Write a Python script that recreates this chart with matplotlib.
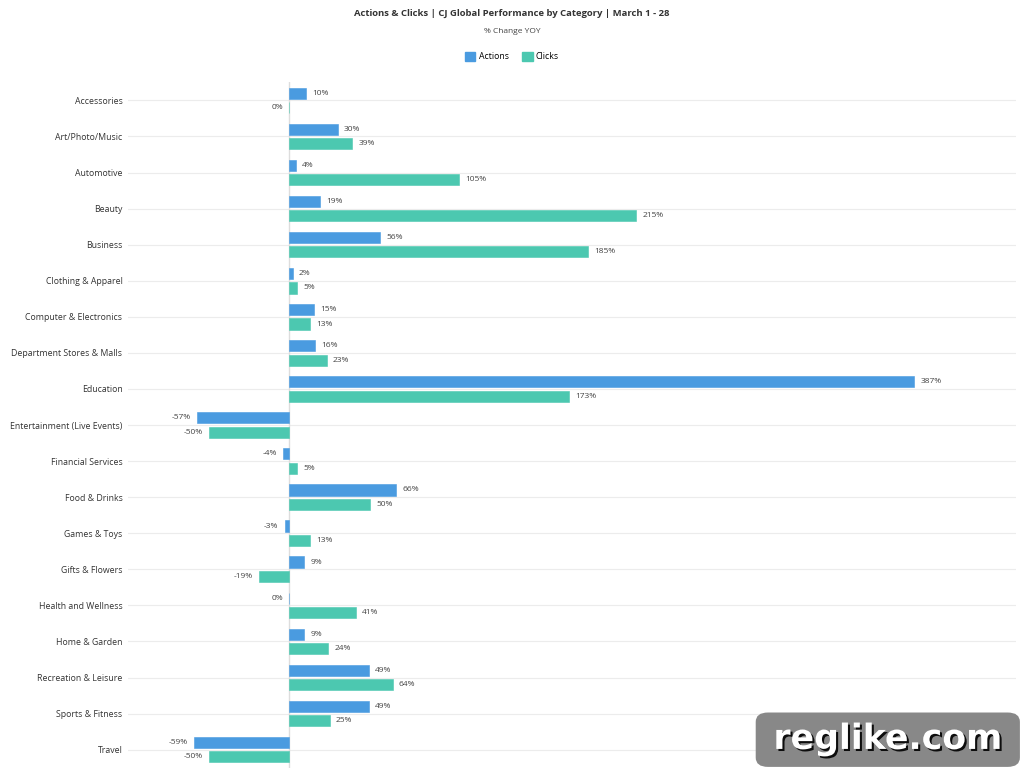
import numpy as np
import matplotlib
matplotlib.use("Agg")
import matplotlib.pyplot as plt
import matplotlib.patheffects as pe
from matplotlib.patches import FancyBboxPatch, Patch

plt.rcParams['font.family'] = ['Open Sans', 'DejaVu Sans']

categories = ["Accessories", "Art/Photo/Music", "Automotive", "Beauty", "Business",
              "Clothing & Apparel", "Computer & Electronics", "Department Stores & Malls",
              "Education", "Entertainment (Live Events)", "Financial Services",
              "Food & Drinks", "Games & Toys", "Gifts & Flowers", "Health and Wellness",
              "Home & Garden", "Recreation & Leisure", "Sports & Fitness", "Travel"]
actions = [10, 30, 4, 19, 56, 2, 15, 16, 387, -57, -4, 66, -3, 9, 0, 9, 49, 49, -59]
clicks = [0, 39, 105, 215, 185, 5, 13, 23, 173, -50, 5, 50, 13, -19, 41, 24, 64, 25, -50]

blue = "#4a9be0"
green = "#4cc8b0"

fig = plt.figure(figsize=(10.24, 7.77), dpi=100)
ax = fig.add_axes([0.125, 0.012, 0.867, 0.882])

y = np.arange(len(categories))
h = 0.31
off = 0.2

for i in y:
    ax.axhline(i, color="#ececec", lw=0.8, zorder=0)
ax.axvline(0, color="#dddddd", lw=1, zorder=0)

ax.barh(y - off, actions, height=h, color=blue, edgecolor=blue, lw=0.4, zorder=2)
ax.barh(y + off, clicks, height=h, color=green, edgecolor=green, lw=0.4, zorder=2)

for vals, dy in ((actions, -off), (clicks, off)):
    for i, v in enumerate(vals):
        if v < 0 or v == 0:
            ax.annotate(f"{v}%", (v, i + dy), xytext=(-4.5, 0), textcoords="offset points",
                        ha="right", va="center", fontsize=6.0, color="#444444")
        else:
            ax.annotate(f"{v}%", (v, i + dy), xytext=(4.5, 0), textcoords="offset points",
                        ha="left", va="center", fontsize=6.0, color="#444444")

ax.set_xlim(-100, 450)
ax.set_ylim(len(categories) - 0.5, -0.5)
ax.set_yticks(y)
ax.set_yticklabels(categories, fontsize=6.3, color="#333333")
ax.tick_params(axis="y", length=0, pad=4)
ax.set_xticks([])
for s in ax.spines.values():
    s.set_visible(False)

fig.text(0.5, 0.983, "Actions & Clicks | CJ Global Performance by Category | March 1 - 28",
         ha="center", va="center", fontsize=6.8, fontweight="bold", color="#333333")
fig.text(0.5, 0.96, "% Change YOY", ha="center", va="center", fontsize=6.0, color="#444444")

handles = [Patch(color=blue, label="Actions"), Patch(color=green, label="Clicks")]
fig.legend(handles=handles, loc="center", bbox_to_anchor=(0.5, 0.927), ncol=2,
           frameon=False, fontsize=6.3, handlelength=1.2, handleheight=1.2,
           columnspacing=1.5, handletextpad=0.4)

# watermark
box = FancyBboxPatch((0.738, 0.013), 0.258, 0.070, boxstyle="round,pad=0,rounding_size=0.012",
                     transform=fig.transFigure, facecolor="#888888", edgecolor="none", zorder=10)
fig.patches.append(box)
fig.text(0.867, 0.049, "reglike.com", ha="center", va="center", fontsize=25,
         fontweight="bold", color="white", family="DejaVu Sans", zorder=11,
         path_effects=[pe.withSimplePatchShadow(offset=(1.5, -1.5), shadow_rgbFace="black", alpha=0.9)])

fig.savefig("out.png", dpi=100, facecolor="white")
